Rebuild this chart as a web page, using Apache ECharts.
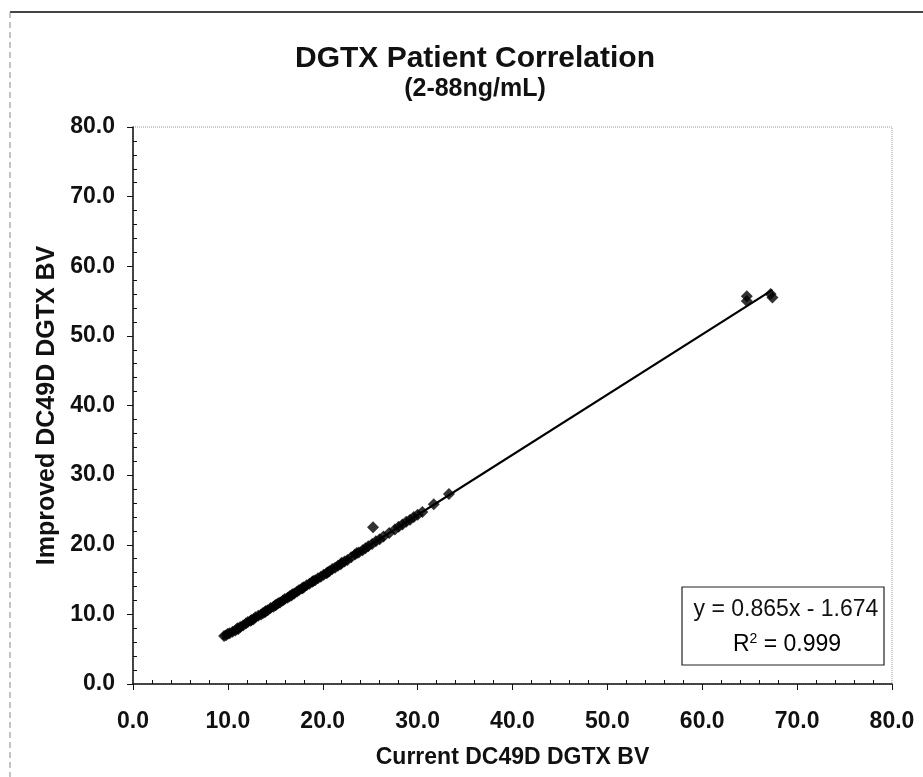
<!DOCTYPE html>
<html><head><meta charset="utf-8">
<script src="https://cdn.jsdelivr.net/npm/echarts@6/dist/echarts.min.js"></script>
<style>html,body{margin:0;padding:0;background:#fff}#c{width:923px;height:777px}</style>
</head><body><div id="c"></div>
<script>
const titleText = 'DGTX Patient Correlation';
const subtitleText = '(2-88ng/mL)';
const xAxisName = 'Current DC49D DGTX BV';
const yAxisName = 'Improved DC49D DGTX BV';
const xValues = [9.6,9.8,10.0,10.2,10.5,10.8,11.0,11.1,11.3,11.6,11.9,12.1,12.4,12.5,12.7,12.9,13.2,13.5,13.7,13.9,14.0,14.2,14.5,14.8,15.0,15.1,15.3,15.5,15.8,16.0,16.3,16.5,16.7,16.8,17.0,17.3,17.5,17.8,17.9,18.0,18.3,18.6,18.9,19.0,19.2,19.5,19.8,20.1,20.4,20.5,20.7,21.0,21.3,21.6,21.9,22.0,22.3,22.6,23.0,23.4,23.6,23.8,24.2,24.5,24.8,25.2,25.6,26.0,26.4,27.0,27.6,28.0,28.4,28.8,29.2,29.6,30.0,30.5,31.7,33.3,25.3,64.7,64.7,67.2,67.4];
const yValues = [6.9,7.0,7.2,7.3,7.5,7.7,8.0,7.9,8.2,8.4,8.7,8.9,9.1,9.2,9.3,9.6,9.8,10.0,10.2,10.3,10.5,10.6,10.9,11.1,11.3,11.4,11.6,11.7,12.0,12.2,12.4,12.6,12.7,12.9,13.0,13.3,13.5,13.7,13.8,13.9,14.2,14.4,14.7,14.8,14.9,15.2,15.4,15.7,15.9,16.0,16.2,16.5,16.7,17.0,17.2,17.4,17.6,17.8,18.2,18.6,18.8,18.9,19.2,19.5,19.8,20.1,20.5,20.8,21.2,21.7,22.2,22.6,22.9,23.3,23.6,24.0,24.3,24.7,25.8,27.3,22.5,55.7,55.0,56.0,55.5];
const trendX = [9.4, 67.4];
const trendY = [6.46, 56.6];
const equationText = 'y = 0.865x - 1.674';
const r2Text = '0.999';

const pts = xValues.map((x, i) => [x, yValues[i]]);
const trend = trendX.map((x, i) => [x, trendY[i]]);
const F = 'Liberation Sans, Arial, sans-serif';

const chart = echarts.init(document.getElementById('c'));
chart.setOption({
  backgroundColor: '#fff',
  animation: false,
  title: [
    {text: titleText, left: 470, textAlign: 'center', top: 39, textStyle: {fontFamily: F, fontSize: 30, fontWeight: 'bold', color: '#111'}},
    {text: subtitleText, left: 470, textAlign: 'center', top: 72, textStyle: {fontFamily: F, fontSize: 25, fontWeight: 'bold', color: '#111'}}
  ],
  grid: {left: 133, right: 31, top: 127, bottom: 93, show: true, borderColor: '#999', borderWidth: 1, borderType: 'dotted'},
  xAxis: {
    type: 'value', min: 0, max: 80, interval: 10,
    name: xAxisName, nameLocation: 'middle', nameGap: 62,
    nameTextStyle: {fontFamily: F, fontSize: 23, fontWeight: 'bold', color: '#111'},
    axisLine: {onZero: false, lineStyle: {color: '#111', width: 1.5}},
    axisTick: {inside: false, length: 6, lineStyle: {color: '#111'}},
    minorTick: {show: true, splitNumber: 5, length: -4, lineStyle: {color: '#111'}},
    splitLine: {show: false},
    axisLabel: {fontFamily: F, fontSize: 23, fontWeight: 'bold', color: '#111', margin: 26, formatter: v => v.toFixed(1)}
  },
  yAxis: {
    type: 'value', min: 0, max: 80, interval: 10,
    name: yAxisName, nameLocation: 'middle', nameGap: 70, nameRotate: 90,
    nameTextStyle: {fontFamily: F, fontSize: 25, fontWeight: 'bold', color: '#111'},
    axisLine: {onZero: false, lineStyle: {color: '#111', width: 1.5}},
    axisTick: {inside: false, length: 6, lineStyle: {color: '#111'}},
    minorTick: {show: true, splitNumber: 5, length: -4, lineStyle: {color: '#111'}},
    splitLine: {show: false},
    axisLabel: {fontFamily: F, fontSize: 23, fontWeight: 'bold', color: '#111', margin: 18, formatter: v => v.toFixed(1)}
  },
  series: [
    {type: 'line', data: trend, symbol: 'none', lineStyle: {color: '#000', width: 2.2}, z: 2},
    {type: 'scatter', data: pts, symbol: 'diamond', symbolSize: 12, itemStyle: {color: '#000'}, z: 3}
  ],
  graphic: [
    {type: 'line', shape: {x1: 10, y1: 12, x2: 923, y2: 12}, style: {stroke: '#444', lineWidth: 2}},
    {type: 'line', shape: {x1: 10, y1: 12, x2: 10, y2: 777}, style: {stroke: '#888', lineWidth: 1, lineDash: [6, 4]}},
    {type: 'rect', shape: {x: 682, y: 587, width: 202, height: 78}, style: {fill: '#fff', stroke: '#222', lineWidth: 1.2}, z: 10},
    {type: 'text', x: 786, y: 610, z: 11, style: {text: equationText, fontFamily: F, fontSize: 23, fill: '#111', align: 'center', verticalAlign: 'middle'}},
    {type: 'text', x: 787, y: 645, z: 11, style: {
      text: '{a|R}{s|2}{a| = ' + r2Text + '}', align: 'center', verticalAlign: 'middle',
      rich: {a: {fontFamily: F, fontSize: 23, color: '#111'}, s: {fontFamily: F, fontSize: 14, color: '#111', verticalAlign: 'top', padding: [0, 0, 12, 0]}}
    }}
  ]
});
</script></body></html>
